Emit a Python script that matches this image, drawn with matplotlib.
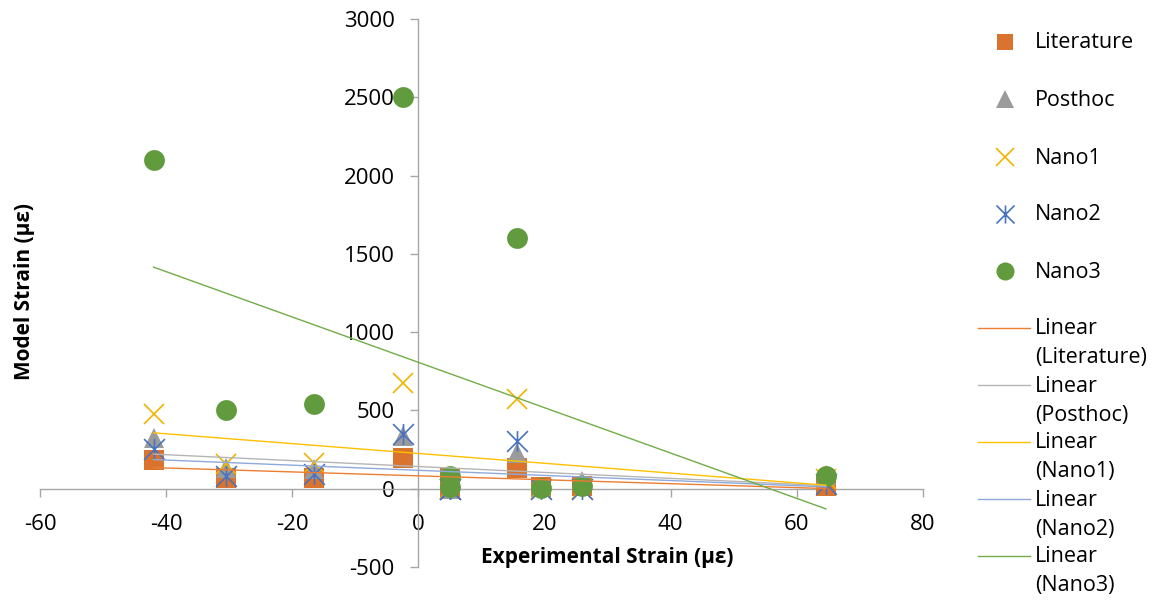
import matplotlib

matplotlib.use("Agg")
import matplotlib.pyplot as plt
import numpy as np
from matplotlib.lines import Line2D
from matplotlib.path import Path

# Experimental strain at each gauge (με)
experimental = [-42.0, -30.5, -16.5, -2.5, 5.0, 5.0, 15.6, 19.5, 26.0, 64.6]

# Model strain predicted by each model at the same gauges (με)
literature = [183, 67, 66, 198, 70, 8, 132, 8, 15, 20]
posthoc = [325, 130, 125, 336, 45, 0, 230, 10, 47, 85]
nano1 = [479, 161, 166, 677, 0, 0, 570, 0, 0, 60]
nano2 = [251, 81, 91, 347, 0, 0, 304, 0, 0, 30]
nano3 = [2100, 500, 538, 2500, 80, 8, 1600, 6, 17, 81]

series_names = ["Literature", "Posthoc", "Nano1", "Nano2", "Nano3"]
x_ticks = [-60, -40, -20, 0, 20, 40, 60, 80]
y_ticks = [-500, 0, 500, 1000, 1500, 2000, 2500, 3000]

W, H = 1165, 604
FONT = ["Open Sans", "DejaVu Sans"]
AXIS_GRAY = "#A6A6A6"
TICK_SIZE = 16
LEGEND_SIZE = 15.5
TITLE_SIZE = 15

# Excel-style asterisk: an X with a vertical bar through it
ASTERISK = Path(
    [(-1, -1), (1, 1), (-1, 1), (1, -1), (0, -1), (0, 1)],
    [Path.MOVETO, Path.LINETO, Path.MOVETO, Path.LINETO, Path.MOVETO, Path.LINETO],
)

MARKERS = {
    "Literature": dict(marker="s", color="#D9732D", ms=14, mew=0),
    "Posthoc": dict(marker="^", color="#9B9B9B", ms=15, mew=0),
    "Nano1": dict(marker="x", color="#F0B400", ms=15, mew=1.2),
    "Nano2": dict(marker=ASTERISK, color="#4A72C0", ms=15, mew=1.2),
    "Nano3": dict(marker="o", color="#619B3E", ms=15, mew=0),
}
TREND_COLORS = {
    "Literature": "#ED7D31",
    "Posthoc": "#B5B5B5",
    "Nano1": "#FFC000",
    "Nano2": "#8EA9DB",
    "Nano3": "#70AD47",
}


def px(x, y):
    """Figure fraction from pixel position (origin top-left)."""
    return x / W, 1 - y / H


def draw_legend(fig):
    lax = fig.add_axes([930 / W, 0, (W - 930) / W, 1])
    lax.set_xlim(930, W)
    lax.set_ylim(H, 0)
    lax.axis("off")

    marker_rows = [42, 99, 157, 214, 271]
    for name, y in zip(series_names, marker_rows):
        st = MARKERS[name]
        lax.plot([1005], [y], linestyle="none", marker=st["marker"], color=st["color"],
                 ms=st["ms"] - 2, mew=st["mew"], clip_on=False)
        lax.text(1035, y + 1, name, va="center", ha="left", fontsize=LEGEND_SIZE)

    line_rows = [328, 385, 442, 499, 556]
    for name, y in zip(series_names, line_rows):
        lax.add_line(Line2D([978, 1030], [y, y], color=TREND_COLORS[name], lw=1.0))
        lax.text(1035, y + 1, "Linear", va="center", ha="left", fontsize=LEGEND_SIZE)
        lax.text(1035, y + 30, f"({name})", va="center", ha="left", fontsize=LEGEND_SIZE)


def main() -> int:
    plt.rcParams["axes.unicode_minus"] = False
    plt.rcParams["font.family"] = FONT

    fig = plt.figure(figsize=(W / 100, H / 100), dpi=100)
    ax = fig.add_axes([40 / W, 37 / H, 883 / W, 548 / H])

    xs = np.asarray(experimental, dtype=float)
    data = dict(zip(series_names, [literature, posthoc, nano1, nano2, nano3]))

    for z, name in enumerate(series_names):
        st = MARKERS[name]
        ax.plot(xs, data[name], linestyle="none", marker=st["marker"], color=st["color"],
                ms=st["ms"], mew=st["mew"], zorder=3 + z * 0.1, clip_on=False)

    # linear trendlines over the measured range
    xfit = np.array([xs.min(), xs.max()])
    for name in series_names:
        slope, icpt = np.polyfit(xs, np.asarray(data[name], dtype=float), 1)
        ax.plot(xfit, slope * xfit + icpt, color=TREND_COLORS[name], lw=1.0, zorder=5)

    ax.set_xlim(-60, 80)
    ax.set_ylim(-500, 3000)
    ax.set_xticks(x_ticks)
    ax.set_yticks(y_ticks)

    for side in ("top", "right"):
        ax.spines[side].set_visible(False)
    ax.spines["left"].set_position(("data", 0))
    ax.spines["bottom"].set_position(("data", 0))
    for side in ("left", "bottom"):
        ax.spines[side].set_color(AXIS_GRAY)
        ax.spines[side].set_linewidth(1.0)
        ax.spines[side].set_zorder(2)

    ax.tick_params(axis="both", direction="out", length=6, width=1.0, color=AXIS_GRAY,
                   labelsize=TICK_SIZE)
    ax.tick_params(axis="x", pad=12)
    ax.tick_params(axis="y", pad=11)
    ax.patch.set_visible(False)

    fig.text(*px(607, 558), "Experimental Strain (με)", ha="center", va="center",
             fontsize=TITLE_SIZE, fontweight="bold")
    fig.text(*px(25, 292), "Model Strain (με)", ha="center", va="center", rotation=90,
             fontsize=TITLE_SIZE, fontweight="bold")

    draw_legend(fig)

    fig.savefig("out.png", dpi=100)
    plt.close(fig)
    return 0


if __name__ == "__main__":
    raise SystemExit(main())
